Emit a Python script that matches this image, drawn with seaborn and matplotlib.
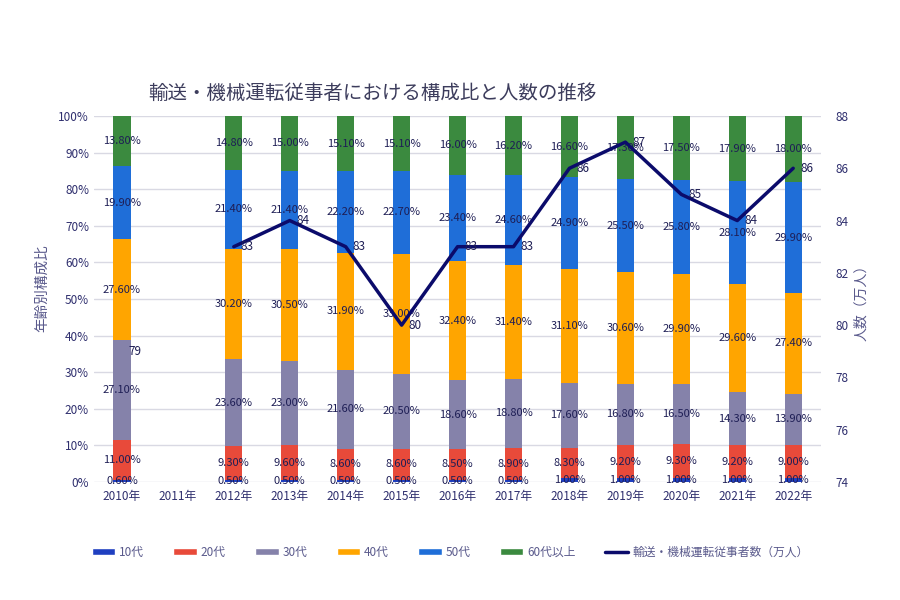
import numpy as np
import pandas as pd
import matplotlib
matplotlib.use("Agg")
import matplotlib.pyplot as plt
from matplotlib.patches import Patch
from matplotlib.lines import Line2D
import seaborn as sns

# data (2011 has no data)
years = ["2010年", "2011年", "2012年", "2013年", "2014年", "2015年", "2016年",
         "2017年", "2018年", "2019年", "2020年", "2021年", "2022年"]
age_groups = ["10代", "20代", "30代", "40代", "50代", "60代以上"]
teens = [0.6, np.nan, 0.5, 0.5, 0.5, 0.5, 0.5, 0.5, 1.0, 1.0, 1.0, 1.0, 1.0]
twenties = [11.0, np.nan, 9.3, 9.6, 8.6, 8.6, 8.5, 8.9, 8.3, 9.2, 9.3, 9.2, 9.0]
thirties = [27.1, np.nan, 23.6, 23.0, 21.6, 20.5, 18.6, 18.8, 17.6, 16.8, 16.5, 14.3, 13.9]
forties = [27.6, np.nan, 30.2, 30.5, 31.9, 33.0, 32.4, 31.4, 31.1, 30.6, 29.9, 29.6, 27.4]
fifties = [19.9, np.nan, 21.4, 21.4, 22.2, 22.7, 23.4, 24.6, 24.9, 25.5, 25.8, 28.1, 29.9]
sixties = [13.8, np.nan, 14.8, 15.0, 15.1, 15.1, 16.0, 16.2, 16.6, 17.3, 17.5, 17.9, 18.0]
workers = [79, np.nan, 83, 84, 83, 80, 83, 83, 86, 87, 85, 84, 86]

colors = ["#1f3fc0", "#e84a3a", "#8582aa", "#ffa500", "#1f6ed8", "#3b8a3f"]
line_color = "#0b0b6b"
text_color = "#1e1e55"
tick_color = "#2f2f6e"
label_color = "#5a5a8c"

df = pd.DataFrame({"year": years, "10代": teens, "20代": twenties, "30代": thirties,
                   "40代": forties, "50代": fifties, "60代以上": sixties,
                   "workers": workers})

sns.set_theme(style="white")
plt.rcParams["font.family"] = ["Noto Sans CJK JP", "DejaVu Sans"]

fig = plt.figure(figsize=(9, 6), dpi=100)
ax = fig.add_axes([0.1044, 0.1967, 0.808, 0.61])

# 100% stacked: each bar is scaled to its own total
totals = df[age_groups].sum(axis=1).replace(0, np.nan).to_numpy()
bottom = np.zeros(len(years))
for grp, col in zip(age_groups, colors):
    share = np.nan_to_num(df[grp].to_numpy() / totals * 100)
    sns.barplot(x=df["year"], y=share, bottom=bottom, color=col, width=0.31,
                errorbar=None, order=years, saturation=1, linewidth=0, ax=ax)
    for i, v in enumerate(df[grp]):
        if not np.isnan(v):
            ax.text(i, bottom[i] + share[i] / 2, f"{v:.2f}%", ha="center",
                    va="center", fontsize=8, color=text_color)
    bottom = bottom + share

ax.set_ylim(0, 100)
ax.set_xlim(-0.5, len(years) - 0.5)
ax.set_yticks(range(0, 101, 10))
ax.set_yticklabels([f"{t}%" for t in range(0, 101, 10)])
ax.yaxis.grid(True, color="#d9d9e3", linewidth=1)
ax.set_axisbelow(True)
ax.set_xlabel("")
ax.set_ylabel("年齢別構成比", color=label_color, fontsize=10.5)
ax.yaxis.set_label_coords(-0.062, 0.53)
ax.tick_params(axis="both", colors=tick_color, labelsize=8.5, length=0)
ax.tick_params(axis="x", pad=6)
for s in ax.spines.values():
    s.set_visible(False)

# worker count line on the right axis, broken where data is missing
ax2 = ax.twinx()
line_df = pd.DataFrame({"pos": np.arange(len(years)), "workers": workers})
line_df["seg"] = line_df["workers"].isna().cumsum()
line_df = line_df.dropna()
sns.lineplot(data=line_df, x="pos", y="workers", units="seg", estimator=None,
             color=line_color, linewidth=2.5, ax=ax2, legend=False)
for p, w in zip(line_df["pos"], line_df["workers"]):
    ax2.annotate(f"{w:.0f}", (p, w), xytext=(5, 0), textcoords="offset points",
                 ha="left", va="center", fontsize=8.5, color=text_color)
ax2.set_ylim(74, 88)
ax2.set_yticks(range(74, 89, 2))
ax2.set_xlim(-0.5, len(years) - 0.5)
ax2.set_ylabel("人数（万人）", color=label_color, fontsize=10, labelpad=4)
ax2.tick_params(axis="y", colors=tick_color, labelsize=8.5, length=0, pad=10)
ax2.grid(False)
for s in ax2.spines.values():
    s.set_visible(False)

fig.text(0.414, 0.845, "輸送・機械運転従事者における構成比と人数の推移",
         ha="center", va="center", fontsize=14, color="#3c3c5c")

handles = [Patch(facecolor=c, label=g) for g, c in zip(age_groups, colors)]
handles.append(Line2D([0], [0], color=line_color, linewidth=2.5,
                      label="輸送・機械運転従事者数（万人）"))
fig.legend(handles=handles, loc="center", bbox_to_anchor=(0.5, 0.08), ncol=7,
           frameon=False, fontsize=8.5, handlelength=2.0, handleheight=0.5,
           columnspacing=2.5, handletextpad=0.3, labelcolor=label_color)

fig.savefig("out.png", dpi=100)
